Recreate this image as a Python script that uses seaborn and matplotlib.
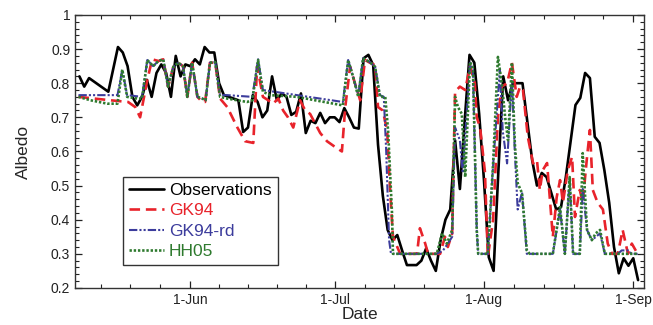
import numpy as np
import pandas as pd
import matplotlib
matplotlib.use('Agg')
from matplotlib import pyplot as plt
import matplotlib.dates as mdates
from matplotlib.ticker import MultipleLocator, FixedLocator, FuncFormatter
import seaborn as sns

# days counted from 1-Jun, albedo
obs_day = [-23, -22, -21, -17, -15, -14, -13, -12, -11, -10, -9, -8, -7, -6, -5, -4, -3, -2, -1, 0,
           1, 2, 3, 4, 5, 6, 7, 8, 9, 10, 11, 12, 13, 14, 15, 16, 17, 18, 19, 20, 21, 22, 23, 24, 25,
           26, 27, 28, 29, 30, 31, 32, 33, 34, 35, 36, 37, 38, 39, 40, 41, 42, 43, 44, 45, 47, 48, 49,
           50, 51, 52, 53, 54, 55, 56, 57, 58, 59, 60, 61, 62, 63, 64, 65, 66, 67, 69, 71, 72, 73, 74,
           76, 77, 78, 80, 81, 82, 83, 84, 85, 86, 87, 88, 89, 90, 91, 92, 93]
obs_val = [0.82, 0.79, 0.815, 0.775, 0.906, 0.89, 0.85, 0.76, 0.735, 0.76,
           0.81, 0.76, 0.83, 0.855, 0.83, 0.76, 0.88, 0.82, 0.855, 0.85,
           0.87, 0.855, 0.906, 0.89, 0.89, 0.80, 0.765, 0.76, 0.755, 0.75,
           0.657, 0.67, 0.765, 0.745, 0.70, 0.72, 0.82, 0.75, 0.77, 0.76,
           0.707, 0.716, 0.77, 0.654, 0.69, 0.683, 0.713, 0.683, 0.70, 0.70,
           0.686, 0.727, 0.70, 0.67, 0.667, 0.873, 0.883, 0.853, 0.62, 0.47,
           0.37, 0.34, 0.355, 0.31, 0.267, 0.267, 0.28, 0.316, 0.28, 0.25,
           0.34, 0.40, 0.43, 0.633, 0.49, 0.69, 0.883, 0.86, 0.71, 0.516,
           0.29, 0.25, 0.545, 0.82, 0.75, 0.80, 0.80, 0.575, 0.50, 0.537,
           0.525, 0.43, 0.437, 0.525, 0.736, 0.757, 0.83, 0.815, 0.643, 0.625,
           0.545, 0.45, 0.32, 0.243, 0.287, 0.265, 0.287, 0.223]

gk_day = [-23.2, -16.6, -12.9, -11.4, -10.4, -8.9, -7.9, -6.6, -5.6, -4.6, -3.5, -2.5, -1.5, -0.6,
          0.4, 1.5, 2.5, 3.1, 4.1, 5.2, 6.2, 7.7, 9.8, 11.4, 13.1, 13.9, 15.1, 16.2, 17.2, 18.3,
          19.3, 20.3, 21.4, 22.8, 23.9, 24.9, 27.0, 28.4, 30.1, 31.5, 32.2, 33.2, 34.2, 35.3, 36.3,
          37.3, 38.4, 39.0, 40.0, 40.9, 41.5, 42.1, 43.0, 43.6, 47.1, 47.7, 48.8, 49.4, 51.9, 52.9,
          53.5, 54.4, 55.0, 56.0, 57.1, 58.1, 59.1, 59.5, 60.2, 61.2, 61.8, 62.9, 63.9, 64.7, 65.8,
          66.8, 67.8, 68.5, 69.1, 70.1, 71.2, 72.0, 72.6, 73.2, 74.1, 74.7, 75.3, 76.1, 76.8, 77.4,
          78.4, 79.3, 79.9, 80.9, 81.5, 82.4, 83.0, 83.6, 84.6, 85.7, 86.7, 87.6, 88.8, 89.8, 90.9,
          91.7, 92.9]
gk_val = [0.76, 0.75, 0.745, 0.73, 0.70, 0.81, 0.87, 0.865, 0.87, 0.79, 0.848, 0.86, 0.85, 0.76,
          0.86, 0.76, 0.745, 0.745, 0.86, 0.86, 0.755, 0.73, 0.67, 0.63, 0.625, 0.85, 0.76, 0.75,
          0.74, 0.755, 0.72, 0.70, 0.67, 0.75, 0.72, 0.71, 0.654, 0.63, 0.613, 0.60, 0.73, 0.848,
          0.80, 0.75, 0.868, 0.86, 0.853, 0.73, 0.72, 0.66, 0.49, 0.35, 0.32, 0.30, 0.30, 0.375,
          0.33, 0.30, 0.30, 0.35, 0.32, 0.36, 0.775, 0.79, 0.78, 0.85, 0.80, 0.70, 0.67, 0.54, 0.29,
          0.40, 0.70, 0.79, 0.80, 0.86, 0.76, 0.79, 0.78, 0.643, 0.565, 0.575, 0.487, 0.545, 0.566,
          0.458, 0.35, 0.466, 0.516, 0.45, 0.545, 0.584, 0.408, 0.487, 0.45, 0.584, 0.663, 0.487,
          0.45, 0.43, 0.33, 0.30, 0.30, 0.37, 0.30, 0.33, 0.30]

rd_day = [-23.2, -15.1, -14.1, -13.1, -10.0, -8.9, -7.7, -6.6, -5.6, -4.6, -3.5, -2.5, -1.5, -0.6,
          0.4, 1.5, 2.5, 3.2, 4.1, 5.2, 6.2, 7.7, 12.9, 14.1, 15.1, 22.2, 31.7, 32.8, 33.8, 34.9,
          35.9, 37.3, 38.4, 39.4, 40.2, 40.7, 41.3, 41.7, 51.2, 52.5, 53.5, 54.4, 55.0, 56.0, 56.6,
          58.1, 58.7, 59.5, 59.8, 61.8, 62.9, 64.3, 64.9, 65.8, 66.8, 67.4, 68.0, 68.9, 69.9, 75.3,
          76.8, 77.8, 78.8, 79.5, 80.9, 81.5, 82.4, 83.4, 85.1, 86.1, 88.8, 89.6, 90.9, 91.7, 92.9]
rd_val = [0.765, 0.765, 0.84, 0.765, 0.76, 0.868, 0.85, 0.865, 0.87, 0.79, 0.848, 0.86, 0.85, 0.76,
          0.86, 0.76, 0.755, 0.75, 0.86, 0.862, 0.765, 0.765, 0.76, 0.87, 0.78, 0.765, 0.745, 0.868,
          0.82, 0.765, 0.873, 0.862, 0.848, 0.765, 0.76, 0.60, 0.34, 0.30, 0.30, 0.31, 0.33, 0.35,
          0.67, 0.633, 0.537, 0.86, 0.84, 0.37, 0.30, 0.30, 0.56, 0.84, 0.66, 0.565, 0.81, 0.60,
          0.43, 0.48, 0.30, 0.30, 0.43, 0.30, 0.52, 0.30, 0.30, 0.49, 0.37, 0.34, 0.36, 0.30, 0.30,
          0.31, 0.31, 0.30, 0.30]

hh_day = [-23.2, -20.7, -17.2, -15.1, -14.1, -13.1, -11.0, -10.0, -8.9, -7.7, -6.6, -5.6, -4.6, -3.5,
          -2.5, -1.5, -0.6, 0.4, 1.5, 2.5, 3.2, 4.1, 5.2, 6.2, 7.7, 11.8, 12.9, 14.1, 15.1, 16.6,
          22.2, 25.9, 31.7, 32.8, 33.8, 34.9, 35.9, 37.3, 38.4, 39.4, 40.5, 41.1, 41.9, 42.1, 51.2,
          52.3, 53.3, 54.4, 55.0, 55.6, 56.4, 57.1, 58.1, 58.7, 59.5, 59.8, 61.8, 62.9, 63.9, 64.7,
          65.4, 66.0, 66.8, 67.4, 68.0, 68.9, 69.9, 70.5, 75.3, 76.8, 77.8, 78.8, 79.5, 80.9, 81.5,
          82.4, 83.4, 84.2, 85.1, 86.1, 92.9]
hh_val = [0.76, 0.75, 0.74, 0.74, 0.84, 0.76, 0.755, 0.755, 0.868, 0.85, 0.865, 0.87, 0.79, 0.848,
          0.86, 0.85, 0.76, 0.86, 0.76, 0.755, 0.75, 0.86, 0.862, 0.76, 0.755, 0.745, 0.75, 0.868,
          0.775, 0.765, 0.76, 0.75, 0.735, 0.868, 0.82, 0.76, 0.873, 0.862, 0.848, 0.76, 0.76, 0.66,
          0.42, 0.30, 0.30, 0.36, 0.33, 0.37, 0.76, 0.73, 0.71, 0.525, 0.862, 0.845, 0.37, 0.30,
          0.30, 0.565, 0.877, 0.80, 0.70, 0.633, 0.86, 0.625, 0.507, 0.478, 0.31, 0.30, 0.30, 0.437,
          0.30, 0.525, 0.30, 0.30, 0.595, 0.37, 0.34, 0.36, 0.37, 0.30, 0.30]

labels = ['Observations', 'GK94', 'GK94-rd', 'HH05']
colors = ['black', '#e8232b', '#3c3c9c', '#2e7a2e']

base = pd.Timestamp('2006-06-01')
def to_dates(days):
    return base + pd.to_timedelta(np.array(days, dtype=float), unit='D')

sns.set_style('ticks')
plt.rcParams['font.family'] = ['Liberation Sans', 'DejaVu Sans']

fig = plt.figure(figsize=(6.53, 3.25), dpi=100)
ax = fig.add_axes([0.115, 0.114, 0.871, 0.840])

sns.lineplot(x=to_dates(obs_day), y=obs_val, ax=ax, color=colors[0], lw=1.9,
             linestyle='-', label=labels[0])
sns.lineplot(x=to_dates(gk_day), y=gk_val, ax=ax, color=colors[1], lw=1.9,
             linestyle=(0, (4, 2.2)), label=labels[1])
sns.lineplot(x=to_dates(rd_day), y=rd_val, ax=ax, color=colors[2], lw=1.5,
             linestyle=(0, (4, 1, 1, 1, 1, 1)), label=labels[2])
sns.lineplot(x=to_dates(hh_day), y=hh_val, ax=ax, color=colors[3], lw=1.9,
             linestyle=(0, (0.9, 0.7)), label=labels[3])

ax.set_xlim(to_dates([-23.9])[0], to_dates([94.2])[0])
ax.set_ylim(0.2, 1.0)

ax.xaxis.set_major_locator(mdates.MonthLocator(bymonthday=1))
ax.xaxis.set_major_formatter(mdates.DateFormatter('%-d-%b'))
minor = []
for m in range(5, 9):
    start = pd.Timestamp(2006, m, 1)
    ndays = start.days_in_month
    for k in range(1, 5):
        minor.append(mdates.date2num(start + pd.Timedelta(days=ndays * k / 5)))
ax.xaxis.set_minor_locator(FixedLocator(minor))

ax.yaxis.set_major_locator(MultipleLocator(0.1))
ax.yaxis.set_minor_locator(MultipleLocator(0.02))
ax.yaxis.set_major_formatter(FuncFormatter(lambda v, p: '%g' % round(v, 2)))

ax.tick_params(which='both', direction='in', top=True, right=True, labelsize=10, colors='#222222')
ax.tick_params(which='major', length=5, width=0.9)
ax.tick_params(which='minor', length=3, width=0.8)
for s in ax.spines.values():
    s.set_linewidth(1.0)
    s.set_color('#333333')

ax.set_xlabel('Date', fontsize=12.5, labelpad=0)
ax.set_ylabel('Albedo', fontsize=12.5, labelpad=14)

leg = ax.legend(loc='lower left', bbox_to_anchor=(0.084, 0.084), borderaxespad=0,
                fontsize=12.5, handlelength=2.0, handletextpad=0.3, labelspacing=0.3,
                fancybox=False, framealpha=1, edgecolor='#333333', borderpad=0.35)
leg.get_frame().set_linewidth(1.0)
for t, c in zip(leg.get_texts(), colors):
    t.set_color(c)

fig.savefig('out.png', dpi=100)
